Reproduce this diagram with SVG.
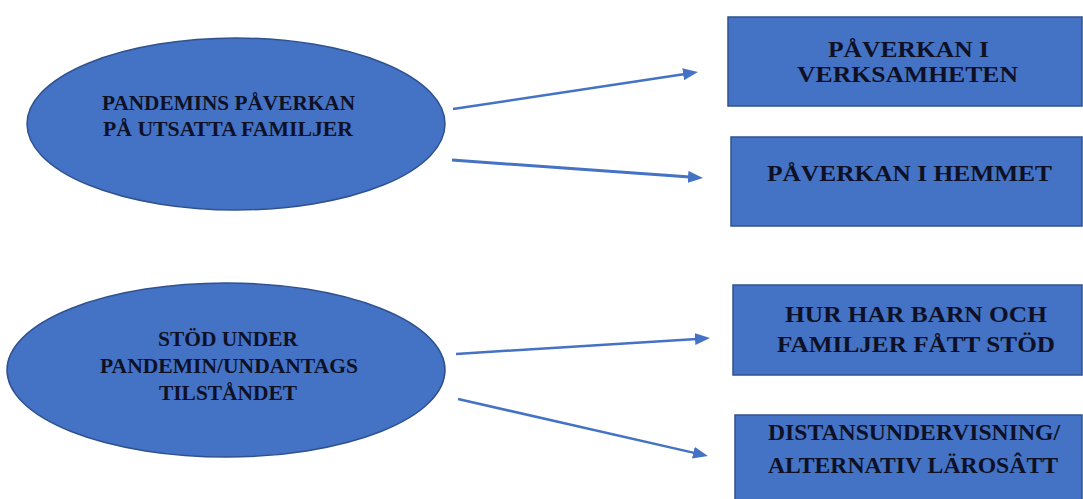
<svg xmlns="http://www.w3.org/2000/svg" width="1083" height="499" viewBox="0 0 1083 499">
<style>
.shape{fill:#4472C4;stroke:#2F528F;stroke-width:1.5}
.lbl{font-family:"Liberation Serif","Times New Roman",serif;font-weight:bold;fill:#0e1126;text-anchor:middle}
.e{font-size:20px}
.b{font-size:24px}
.conn{stroke:#4472C4;stroke-width:2.5;fill:none;marker-end:url(#ah)}
</style>
<defs>
<marker id="ah" markerUnits="userSpaceOnUse" markerWidth="17" markerHeight="13" refX="2" refY="6" orient="auto">
<path d="M0,0 L15,6 L0,12 z" fill="#4472C4"/>
</marker>
</defs>
<rect width="1083" height="499" fill="#ffffff"/>
<g id="connectors">
<line class="conn" x1="453" y1="109" x2="685.1" y2="74"/>
<line class="conn" x1="452" y1="160" x2="690" y2="177" style="stroke-width:3"/>
<line class="conn" x1="456" y1="354" x2="697" y2="338.9"/>
<line class="conn" x1="458" y1="399" x2="695.3" y2="453.1"/>
</g>
<g id="node-pandemins">
<ellipse class="shape" cx="236" cy="124" rx="209" ry="86"/>
<text class="lbl e" x="228.5" y="110" textLength="253" lengthAdjust="spacingAndGlyphs">PANDEMINS PÅVERKAN</text>
<text class="lbl e" x="228" y="136" textLength="250" lengthAdjust="spacingAndGlyphs">PÅ UTSATTA FAMILJER</text>
</g>
<g id="node-stod">
<ellipse class="shape" cx="226" cy="370" rx="219" ry="87"/>
<text class="lbl e" x="228" y="346" textLength="140" lengthAdjust="spacingAndGlyphs">STÖD UNDER</text>
<text class="lbl e" x="229" y="373" textLength="258" lengthAdjust="spacingAndGlyphs">PANDEMIN/UNDANTAGS</text>
<text class="lbl e" x="228" y="400" textLength="138" lengthAdjust="spacingAndGlyphs">TILSTÅNDET</text>
</g>
<g id="node-verksamheten">
<rect class="shape" x="728" y="17" width="354" height="89"/>
<text class="lbl b" x="908.5" y="57" textLength="161" lengthAdjust="spacingAndGlyphs">PÅVERKAN I</text>
<text class="lbl b" x="907.5" y="82" textLength="221" lengthAdjust="spacingAndGlyphs">VERKSAMHETEN</text>
</g>
<g id="node-hemmet">
<rect class="shape" x="731" y="137" width="351" height="89"/>
<text class="lbl b" x="909.5" y="181" textLength="285" lengthAdjust="spacingAndGlyphs">PÅVERKAN I HEMMET</text>
</g>
<g id="node-stod-barn">
<rect class="shape" x="733" y="285" width="349" height="90"/>
<text class="lbl b" x="916" y="322" textLength="262" lengthAdjust="spacingAndGlyphs">HUR HAR BARN OCH</text>
<text class="lbl b" x="916" y="352" textLength="278" lengthAdjust="spacingAndGlyphs">FAMILJER FÅTT STÖD</text>
</g>
<g id="node-distans">
<rect class="shape" x="735" y="415" width="347" height="90"/>
<text class="lbl b" x="914" y="440" textLength="292" lengthAdjust="spacingAndGlyphs">DISTANSUNDERVISNING/</text>
<text class="lbl b" x="913" y="473" textLength="290" lengthAdjust="spacingAndGlyphs">ALTERNATIV LÄROSÂTT</text>
</g>
</svg>
